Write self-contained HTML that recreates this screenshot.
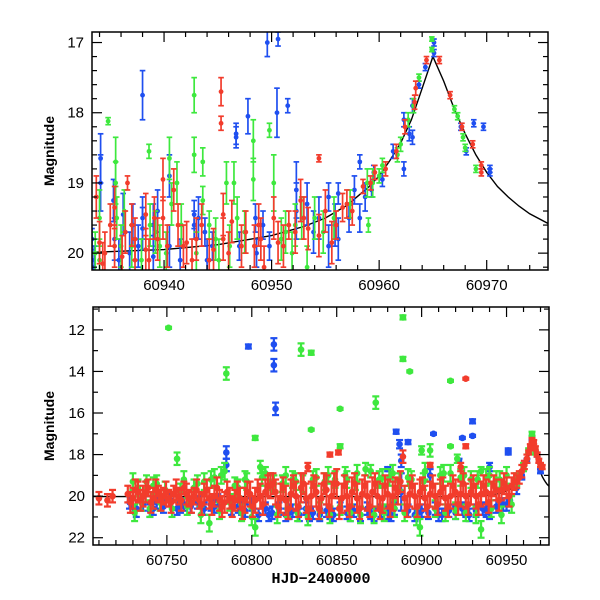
<!DOCTYPE html>
<html><head><meta charset="utf-8">
<style>
html,body{margin:0;padding:0;background:#fff;}
svg{display:block;font-family:"Liberation Sans",sans-serif;}
</style></head>
<body>
<svg id="chart" width="600" height="600" viewBox="0 0 600 600" xmlns="http://www.w3.org/2000/svg">
<g id="top"></g>
<g id="bot"></g>
</svg>
<script>
// ---- data (day, magnitude, error) ----
const topBlue=[[60933.3,19.8,.15],[60933.3,20.1,.2],[60934.1,18.65,.35],[60934.1,19.0,.4],[60935.3,19.25,.3],[60935.4,19.8,.3],[60936.2,19.45,.3],[60937.1,19.6,.3],[60938.0,17.75,.35],[60938.0,19.5,.3],[60938.0,19.65,.3],[60939.0,19.6,.3],[60939.0,20.05,.3],[60940.5,18.9,.3],[60940.5,19.9,.3],[60942.8,19.45,.2],[60942.8,19.6,.2],[60943.8,19.7,.2],[60944.5,19.9,.2],[60946.7,18.35,.15],[60946.7,18.3,.15],[60947.8,18.05,.25],[60948.5,19.5,.2],[60948.6,20.0,.2],[60949.6,17.0,.2],[60950.5,18.0,.35],[60950.6,16.95,.1],[60951.5,17.9,.1],[60952.3,19.1,.4],[60952.3,19.4,.4],[60953.3,19.3,.3],[60954.4,19.5,.3],[60955.3,19.2,.2],[60955.3,19.9,.3],[60956.2,19.15,.15],[60956.2,19.8,.3],[60957.2,19.5,.2],[60958.2,18.7,.1],[60958.2,19.5,.2],[60959.3,19.1,.1],[60959.5,18.85,.1],[60961.3,18.55,.1],[60962.3,18.1,.1],[60962.3,18.8,.1],[60963.1,18.35,.1],[60963.1,17.9,.1],[60964.3,17.35,.05],[60965.1,17.0,.05],[60965.1,17.15,.05],[60967.6,18.2,.05],[60968.1,18.55,.05],[60968.8,18.15,.05],[60969.7,18.2,.05],[60970.3,18.8,.05],[60970.3,18.85,.05],
[60933.5,20.2,.3],[60935.8,20.1,.3],[60936.8,20.0,.3],[60937.6,19.9,.3],[60939.4,19.4,.3],[60941.5,20.1,.3],[60943.2,19.5,.3],[60944.0,20.1,.3],[60947.0,19.9,.2],[60949.2,19.6,.2],[60949.8,19.9,.2],[60953.9,19.7,.3],[60955.9,19.6,.3],[60957.7,19.1,.2],[60958.7,19.2,.2],[60960.3,18.95,.1],[60962.8,18.3,.1],[60963.7,17.6,.05]];
const topGreen=[[60934.0,19.5,.4],[60934.0,20.1,.3],[60934.8,18.12,.05],[60935.5,18.7,.35],[60935.5,19.0,.3],[60935.6,19.5,.3],[60936.0,19.9,.3],[60937.0,19.9,.3],[60938.6,18.55,.1],[60938.7,19.6,.3],[60939.2,19.7,.3],[60940.5,18.65,.3],[60940.7,19.3,.3],[60941.2,19.0,.3],[60942.8,17.75,.25],[60942.8,18.6,.25],[60943.6,18.7,.2],[60943.6,19.25,.2],[60944.2,19.6,.2],[60945.8,19.0,.3],[60946.5,19.0,.3],[60946.8,19.5,.3],[60948.3,18.4,.3],[60948.3,18.95,.3],[60949.8,18.25,.1],[60950.2,19.0,.4],[60951.3,19.7,.3],[60952.2,19.6,.3],[60953.3,20.2,.3],[60954.0,19.5,.3],[60957.3,19.3,.2],[60959.0,19.6,.1],[60959.4,19.0,.2],[60960.0,18.9,.1],[60962.0,18.45,.1],[60962.7,18.1,.1],[60963.2,17.9,.1],[60963.7,17.5,.05],[60964.9,16.95,.03],[60964.9,17.1,.03],[60967.0,17.95,.05],[60967.3,18.05,.05],[60967.8,18.35,.05],[60968.0,18.5,.05],[60969.0,18.8,.05],
[60933.6,20.0,.3],[60936.3,19.4,.3],[60937.9,20.1,.3],[60939.6,19.9,.3],[60940.2,20.0,.3],[60941.6,19.6,.3],[60943.0,20.0,.3],[60944.8,19.8,.3],[60945.1,20.1,.3],[60946.1,19.9,.3],[60947.5,19.7,.3],[60950.9,19.8,.3],[60951.9,20.0,.3],[60952.8,19.5,.3],[60954.8,19.7,.3],[60955.8,19.5,.3],[60958.9,19.0,.2],[60960.3,18.75,.1],[60961.7,18.6,.1]];
const topRed=[[60933.7,19.2,.3],[60934.0,19.85,.3],[60934.5,20.0,.3],[60935.4,19.35,.3],[60935.4,19.9,.3],[60936.6,19.0,.1],[60936.4,19.7,.3],[60937.3,19.8,.3],[60937.3,20.1,.3],[60938.3,19.45,.3],[60938.3,19.95,.3],[60939.1,19.5,.3],[60939.9,18.95,.3],[60939.9,19.5,.3],[60940.9,19.1,.3],[60941.3,19.6,.3],[60942.1,19.85,.3],[60942.6,20.1,.3],[60943.5,19.6,.3],[60944.2,20.1,.3],[60945.3,17.7,.2],[60945.3,18.15,.1],[60945.5,19.45,.3],[60945.5,19.8,.3],[60946.3,19.55,.3],[60947.2,19.9,.3],[60948.4,19.9,.3],[60948.8,19.6,.3],[60949.3,20.2,.3],[60950.2,19.5,.3],[60950.6,19.85,.3],[60951.6,19.6,.2],[60952.7,19.25,.3],[60953.4,19.65,.3],[60954.4,18.65,.05],[60954.4,19.75,.3],[60955.0,19.4,.3],[60955.6,19.85,.3],[60956.6,19.35,.2],[60957.5,19.4,.2],[60958.5,19.05,.1],[60959.6,18.85,.1],[60960.6,18.8,.1],[60961.6,18.55,.1],[60962.4,18.2,.1],[60963.3,17.85,.1],[60963.4,17.65,.1],[60964.4,17.25,.05],[60965.6,17.25,.05],[60966.6,17.75,.05],[60967.7,18.2,.05],[60968.7,18.45,.05],[60969.5,18.75,.05],[60969.5,18.85,.05],
[60934.3,20.15,.3],[60935.0,19.6,.3],[60936.1,20.05,.3],[60937.0,19.6,.3],[60938.6,20.1,.3],[60939.4,19.8,.3],[60940.3,19.9,.3],[60941.8,19.9,.3],[60943.0,19.8,.3],[60944.6,19.95,.3],[60946.0,20.0,.3],[60947.6,19.7,.3],[60949.0,19.8,.3],[60951.1,19.9,.3],[60952.2,19.7,.3],[60953.0,19.5,.3],[60956.0,19.6,.2],[60957.0,19.3,.2],[60959.2,19.0,.1]];

const botGreen=[[60731,20.8,.4],[60733,19.6,.4],[60735,20.3,.4],[60738,19.3,.3],[60740,20.6,.4],[60742,19.5,.4],[60746,20.3,.4],[60749,19.7,.4],[60753,20.6,.4],[60756,18.2,.3],[60758,19.8,.4],[60762,20.5,.4],[60766,19.6,.4],[60770,20.9,.4],[60772,19.3,.4],[60775,21.3,.4],[60778,19.1,.4],[60781,20.7,.4],[60784,18.8,.4],[60787,20.3,.4],[60790,19.5,.4],[60794,20.8,.4],[60797,19.3,.4],[60800,21.0,.4],[60802,21.5,.4],[60805,18.6,.3],[60808,18.9,.3],[60811,19.3,.4],[60815,20.9,.4],[60818,19.4,.4],[60821,20.6,.4],[60824,19.2,.4],[60827,20.8,.4],[60830,19.4,.4],[60833,21.0,.4],[60836,19.2,.4],[60840,20.7,.4],[60843,19.3,.4],[60846,20.9,.4],[60849,19.2,.4],[60852,20.5,.4],[60855,19.0,.4],[60858,20.8,.4],[60861,19.3,.4],[60864,20.9,.4],[60867,18.7,.3],[60870,18.8,.3],[60872,20.9,.4],[60875,19.2,.4],[60878,20.8,.4],[60881,19.1,.4],[60884,20.6,.4],[60887,19.3,.4],[60890,20.8,.4],[60894,19.2,.4],[60897,21.0,.4],[60899,21.5,.4],[60902,18.8,.4],[60905,17.8,.3],[60908,20.6,.4],[60911,19.0,.4],[60914,20.8,.4],[60917,18.9,.4],[60920,20.7,.4],[60923,19.1,.4],[60926,20.8,.4],[60929,19.2,.4],[60932,20.9,.4],[60935,21.6,.4],[60938,19.1,.4],[60941,20.6,.4],[60944,19.2,.4],[60947,20.9,.4],[60950,19.0,.4],[60953,20.4,.4],[60956,19.2,.3],[60960,18.6,.2],[60963,17.8,.1],[60965,17.0,.1],[60967,17.9,.1],
[60730,19.3,.4],[60744,19.4,.4],[60760,19.2,.4],[60768,19.4,.4],[60776,19.2,.4],[60782,19.0,.4],[60792,19.6,.4],[60796,19.2,.4],[60806,19.1,.4],[60813,19.4,.4],[60820,19.0,.4],[60826,19.3,.4],[60838,19.1,.4],[60845,19.0,.4],[60856,19.2,.4],[60862,18.9,.4],[60877,19.1,.4],[60883,18.9,.4],[60892,19.1,.4],[60901,19.3,.4],[60913,18.9,.4],[60925,19.0,.4],[60933,19.2,.4],[60940,19.0,.4],[60946,19.2,.4],
[60751,11.9,.05],[60785,14.1,.3],[60802,17.2,.1],[60829,12.95,.3],[60835,13.1,.1],[60835,16.8,.05],[60852,15.8,.05],[60852,17.6,.1],[60873,15.5,.3],[60889,11.4,.1],[60889,13.4,.1],[60893,14.0,.05],[60917,14.45,.05],[60917,17.6,.05],[60900,17.8,.2],[60935,18.8,.2],[60921,18.2,.2]];
const botBlue=[[60728,20.3,.3],[60732,20.6,.4],[60736,20.4,.3],[60740,20.7,.3],[60744,20.3,.3],[60748,20.5,.3],[60752,20.2,.3],[60756,20.6,.3],[60760,20.4,.3],[60764,20.5,.3],[60768,20.3,.3],[60772,20.6,.3],[60776,20.4,.3],[60780,20.2,.3],[60785,17.9,.3],[60785,18.5,.3],[60788,20.6,.3],[60792,20.5,.3],[60796,20.7,.3],[60800,20.4,.3],[60804,20.9,.3],[60808,20.6,.3],[60812,20.8,.3],[60816,20.6,.3],[60820,20.9,.3],[60824,20.7,.3],[60828,20.9,.3],[60832,20.6,.3],[60836,20.8,.3],[60840,20.9,.3],[60844,20.7,.3],[60848,20.9,.3],[60852,20.6,.3],[60856,20.8,.3],[60860,20.7,.3],[60864,20.9,.3],[60868,20.6,.3],[60872,20.9,.3],[60876,20.7,.3],[60880,20.8,.3],[60884,20.6,.3],[60888,19.8,.9],[60892,20.7,.3],[60896,20.9,.3],[60900,20.7,.3],[60904,20.8,.3],[60908,20.6,.3],[60912,20.9,.3],[60916,20.7,.3],[60920,20.8,.3],[60924,20.6,.3],[60928,20.9,.3],[60932,20.7,.3],[60936,20.6,.3],[60940,20.8,.3],[60944,20.5,.3],[60948,20.4,.3],[60952,20.2,.3],[60956,19.6,.3],[60959,19.0,.2],[60962,18.3,.1],[60965,17.2,.1],[60968,18.0,.1],[60970,18.8,.1],
[60730,20.5,.3],[60742,20.6,.3],[60758,20.5,.3],[60778,20.5,.3],[60794,20.6,.3],[60810,20.9,.3],[60822,20.8,.3],[60834,20.9,.3],[60846,20.8,.3],[60858,20.9,.3],[60870,20.8,.3],[60882,20.9,.3],[60898,20.8,.3],[60910,20.9,.3],[60926,20.7,.3],[60938,20.7,.3],[60950,20.4,.3],
[60798,12.8,.1],[60813,12.7,.3],[60813,13.7,.3],[60814,15.8,.3],[60887,17.5,.2],[60888,18.3,.3],[60892,17.4,.1],[60885,16.9,.1],[60907,17.0,.05],[60924,17.2,.05],[60930,16.4,.1],[60930,17.1,.05],[60951,17.8,.1],[60951,17.9,.1],[60940,18.6,.2],[60905,19.0,.3],[60880,18.7,.1],[60922,18.3,.1]];
const botRed=[[60710,20.1,.3],[60715,20.2,.3],[60718,20.0,.3],[60727,19.9,.4],[60730,20.1,.5],[60733,19.8,.5],[60736,20.0,.5],[60739,19.6,.4],[60742,20.1,.5],[60745,19.9,.4],[60748,20.0,.4],[60751,20.1,.4],[60754,19.9,.4],[60757,20.0,.4],[60760,19.6,.3],[60763,20.1,.4],[60766,20.0,.4],[60769,20.2,.4],[60772,19.9,.5],[60775,20.1,.5],[60778,20.0,.5],[60781,20.2,.5],[60784,20.3,.5],[60787,20.1,.5],[60790,20.2,.5],[60793,20.1,.5],[60796,20.2,.6],[60799,19.9,.6],[60802,20.2,.6],[60805,20.0,.6],[60808,19.8,.6],[60811,19.5,.6],[60814,19.8,.6],[60817,20.1,.7],[60820,20.2,.7],[60823,19.9,.7],[60826,20.0,.7],[60829,19.6,.7],[60832,20.1,.7],[60835,20.0,.7],[60838,19.8,.7],[60841,20.1,.7],[60844,19.7,.7],[60847,20.0,.7],[60850,19.4,.7],[60853,20.1,.7],[60856,20.0,.7],[60859,19.8,.7],[60862,20.1,.7],[60865,19.9,.7],[60868,20.0,.7],[60871,19.8,.7],[60874,20.0,.7],[60877,20.1,.7],[60880,19.9,.7],[60883,20.0,.7],[60886,19.8,.6],[60890,20.1,.6],[60893,19.9,.6],[60896,20.0,.6],[60899,19.8,.6],[60902,20.1,.6],[60905,19.9,.6],[60908,20.0,.6],[60911,19.8,.6],[60914,20.1,.6],[60917,20.0,.6],[60920,19.8,.6],[60923,19.9,.6],[60926,20.0,.6],[60929,19.8,.6],[60932,20.0,.6],[60935,19.9,.6],[60938,19.8,.6],[60941,19.9,.6],[60944,19.7,.5],[60947,19.7,.5],[60950,19.6,.5],[60953,19.5,.4],[60956,19.3,.3],[60959,18.8,.3],[60962,18.2,.2],[60964,17.6,.1],[60965,17.3,.1],[60967,17.7,.1],[60969,18.3,.1],[60971,18.6,.1],
[60728.5,20.3,.5],[60731.5,19.7,.5],[60734.5,20.2,.5],[60737.5,19.8,.5],[60740.5,20.3,.5],[60743.5,19.7,.5],[60746.5,20.2,.5],[60749.5,19.8,.5],[60752.5,20.3,.5],[60755.5,19.7,.5],[60758.5,20.2,.5],[60761.5,19.9,.5],[60764.5,20.3,.5],[60767.5,19.7,.5],[60770.5,20.4,.5],[60773.5,19.7,.5],[60776.5,20.4,.5],[60779.5,19.6,.5],[60782.5,20.5,.5],[60785.5,19.8,.5],[60788.5,20.5,.5],[60791.5,19.8,.5],[60794.5,20.6,.5],[60797.5,19.8,.5],[60800.5,20.5,.5],[60803.5,19.7,.5],[60806.5,20.4,.5],[60809.5,19.5,.5],[60812.5,19.4,.5],[60815.5,20.5,.5],[60818.5,19.6,.5],[60821.5,20.6,.5],[60824.5,19.5,.5],[60827.5,20.5,.5],[60830.5,19.4,.5],[60833.5,20.6,.5],[60836.5,19.5,.5],[60839.5,20.6,.5],[60842.5,19.4,.5],[60845.5,20.5,.5],[60848.5,19.4,.5],[60851.5,20.6,.5],[60854.5,19.5,.5],[60857.5,20.5,.5],[60860.5,19.4,.5],[60863.5,20.6,.5],[60866.5,19.5,.5],[60869.5,20.5,.5],[60872.5,19.4,.5],[60875.5,20.6,.5],[60878.5,19.5,.5],[60881.5,20.5,.5],[60884.5,19.6,.5],[60887.5,19.3,.5],[60891.5,20.5,.5],[60894.5,19.5,.5],[60897.5,20.5,.5],[60900.5,19.6,.5],[60903.5,20.5,.5],[60906.5,19.5,.5],[60909.5,20.4,.5],[60912.5,19.6,.5],[60915.5,20.5,.5],[60918.5,19.5,.5],[60921.5,20.4,.5],[60924.5,19.4,.5],[60927.5,20.4,.5],[60930.5,19.5,.5],[60933.5,20.4,.5],[60936.5,19.5,.5],[60939.5,20.3,.5],[60942.5,19.5,.5],[60945.5,20.2,.5],[60948.5,19.4,.5],[60951.5,20.0,.5],[60954.5,19.3,.4],[60957.5,19.1,.3],[60960.5,18.5,.2],[60963,17.9,.1],[60966,17.4,.1],[60968,18.0,.1],[60970,18.5,.1],
[60846,18.0,.1],[60851,17.9,.1],[60889,18.1,.3],[60926,14.35,.05],[60926,17.6,.1],[60923,18.6,.2],[60905,18.5,.1],[60833,18.6,.2]];

const curveDays=[60706,60920,60933,60940,60945,60950,60953,60955,60957,60959,60960,60961,60962,60963,60964,60965,60966,60967,60968,60969,60970,60971,60972,60973,60974,60976];
const curveMags=[20.02,20.02,19.99,19.95,19.88,19.75,19.62,19.5,19.32,19.06,18.9,18.68,18.43,18.1,17.65,17.2,17.55,17.95,18.3,18.6,18.85,19.05,19.2,19.33,19.44,19.6];

const topXTicks=[60940,60950,60960,60970];
const topYTicks=[17,18,19,20];
const botXTicks=[60750,60800,60850,60900,60950];
const botYTicks=[12,14,16,18,20,22];

const NS="http://www.w3.org/2000/svg";
function mk(parent,tag,attrs){const e=document.createElementNS(NS,tag);for(const k in attrs)e.setAttribute(k,attrs[k]);parent.appendChild(e);return e;}

function panel(g,cfg){
  const sx=d=>cfg.x0+(d-cfg.d0)/(cfg.d1-cfg.d0)*(cfg.x1-cfg.x0);
  const sy=m=>cfg.y0+(m-cfg.m0)/(cfg.m1-cfg.m0)*(cfg.y1-cfg.y0);
  const cp=mk(g,'clipPath',{id:cfg.id+'clip'});
  mk(cp,'rect',{x:cfg.x0,y:cfg.y0,width:cfg.x1-cfg.x0,height:cfg.y1-cfg.y0});
  const plot=mk(g,'g',{'clip-path':'url(#'+cfg.id+'clip)'});
  
  
  let dstr='';
  curveDays.forEach((d,i)=>{dstr+=(i?'L':'M')+sx(d).toFixed(1)+','+sy(curveMags[i]).toFixed(1);});
  const cv=mk(plot,'path',{d:dstr,fill:'none',stroke:'#000','stroke-width':1.4});
  
  
  const series=[[cfg.blue,'#1f4ff0','blue-points'],[cfg.green,'#3ee83e','green-points'],[cfg.red,'#f23c2c','red-points']];
  series.forEach(([arr,col,name])=>{
    const sg=mk(plot,'g',{fill:col,stroke:col,'stroke-width':cfg.sw});
    
    
    arr.forEach(p=>{
      const x=sx(p[0]),y=sy(p[1]),ya=sy(p[1]-p[2]),yb=sy(p[1]+p[2]);
      const pt=mk(sg,'g',{});
      
      
      mk(pt,'line',{x1:x,x2:x,y1:ya,y2:yb});
      mk(pt,'line',{x1:x-cfg.cap,x2:x+cfg.cap,y1:ya,y2:ya});
      mk(pt,'line',{x1:x-cfg.cap,x2:x+cfg.cap,y1:yb,y2:yb});
      mk(pt,'circle',{cx:x,cy:y,r:cfg.r,stroke:'none'});
    });
  });
  const fr=mk(g,'rect',{x:cfg.x0,y:cfg.y0,width:cfg.x1-cfg.x0,height:cfg.y1-cfg.y0,fill:'none',stroke:'#000','stroke-width':1.5});
  
  
  const tg=mk(g,'g',{stroke:'#000','stroke-width':1.2});
  
  
  for(let d=Math.ceil(cfg.d0/cfg.xmin)*cfg.xmin;d<=cfg.d1;d+=cfg.xmin){
    const x=sx(d),L=(Math.abs(d/cfg.xmaj-Math.round(d/cfg.xmaj))<1e-6)?10:5;
    mk(tg,'line',{x1:x,x2:x,y1:cfg.y1,y2:cfg.y1-L});
    mk(tg,'line',{x1:x,x2:x,y1:cfg.y0,y2:cfg.y0+L});
  }
  for(let m=Math.ceil(cfg.m0/cfg.ymin)*cfg.ymin;m<=cfg.m1+1e-9;m+=cfg.ymin){
    const y=sy(m),L=(Math.abs(m/cfg.ymaj-Math.round(m/cfg.ymaj))<1e-6)?10:5;
    mk(tg,'line',{x1:cfg.x0,x2:cfg.x0+L,y1:y,y2:y});
    mk(tg,'line',{x1:cfg.x1,x2:cfg.x1-L,y1:y,y2:y});
  }
  cfg.xt.forEach(d=>{
    const t=mk(g,'text',{x:sx(d),y:cfg.y1+20,'text-anchor':'middle','font-size':15});
    t.textContent=d;
    
    
  });
  cfg.yt.forEach(m=>{
    const t=mk(g,'text',{x:cfg.x0-8,y:sy(m)+5,'text-anchor':'end','font-size':15});
    t.textContent=m;
    
    
  });
  const yl=mk(g,'text',{x:0,y:0,transform:'translate(54,'+((cfg.y0+cfg.y1)/2)+') rotate(-90)','text-anchor':'middle','font-size':14,'font-weight':'bold'});
  yl.textContent='Magnitude';
  
  
}

panel(document.getElementById('top'),{id:'t',x0:92,x1:548,y0:32,y1:270,d0:60933.3,d1:60975.7,m0:16.85,m1:20.24,
  xmaj:10,xmin:2,ymaj:1,ymin:0.2,xt:topXTicks,yt:topYTicks,blue:topBlue,green:topGreen,red:topRed,r:2.4,sw:1.7,cap:2.8});
panel(document.getElementById('bot'),{id:'b',x0:93,x1:549,y0:307,y1:545,d0:60706.5,d1:60975,m0:10.9,m1:22.35,
  xmaj:50,xmin:10,ymaj:2,ymin:1,xt:botXTicks,yt:botYTicks,blue:botBlue,green:botGreen,red:botRed,r:3.3,sw:2.2,cap:3.5});
const xl=mk(document.getElementById('bot'),'text',{x:321,y:583,'text-anchor':'middle','font-size':15,'font-family':'Liberation Mono, monospace','font-weight':'bold'});
xl.textContent='HJD\u22122400000';


</script>
</body></html>
